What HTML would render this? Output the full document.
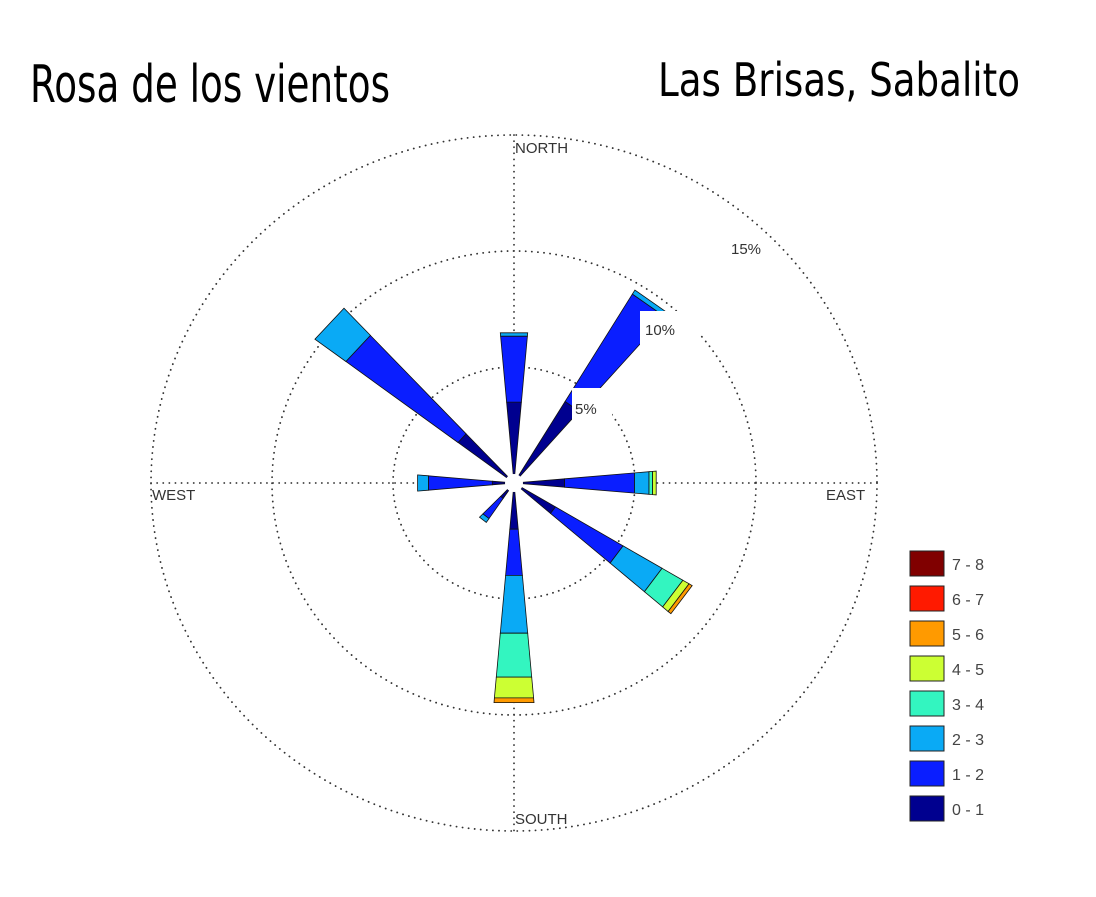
<!DOCTYPE html>
<html><head><meta charset="utf-8"><style>
html,body{margin:0;padding:0;background:#fff;}
svg{display:block;}
</style></head><body>
<svg id="chart" width="1096" height="897" viewBox="0 0 1096 897" xmlns="http://www.w3.org/2000/svg">
  <rect width="1096" height="897" fill="#fff"/>
  <text x="30" y="102" font-family="DejaVu Sans, sans-serif" font-size="52" textLength="360" lengthAdjust="spacingAndGlyphs">Rosa de los vientos</text>
  <text x="658" y="96" font-family="DejaVu Sans, sans-serif" font-size="46" textLength="362" lengthAdjust="spacingAndGlyphs">Las Brisas, Sabalito</text>
  <g id="grid"></g>
  <g id="wedges"></g>
  <circle cx="514" cy="483" r="9" fill="#fff"/>
  <g id="labels"></g>
  <g id="legend"></g>
</svg>
<script>
const directions = [0, 36, 90, 126, 180, 219, 270, 312];
const dirNames = ['N','NE','E','SE','S','SW','W','NW'];
const bin01 = [3.5, 4.1, 2.1, 2.0, 2.0, 0.8, 0.9, 2.9];
const bin12 = [2.85, 5.4, 2.9, 3.26, 2.0, 1.05, 2.65, 5.8];
const bin23 = [0.15, 0.2, 0.6, 1.88, 2.5, 0.2, 0.45, 1.6];
const bin34 = [0, 0, 0.15, 1.0, 1.9, 0, 0, 0];
const bin45 = [0, 0, 0.15, 0.3, 0.9, 0, 0, 0];
const bin56 = [0, 0, 0, 0.15, 0.2, 0, 0, 0];
const bin67 = [0, 0, 0, 0, 0, 0, 0, 0];
const bin78 = [0, 0, 0, 0, 0, 0, 0, 0];
const binLabels = ['0 - 1','1 - 2','2 - 3','3 - 4','4 - 5','5 - 6','6 - 7','7 - 8'];
const ringValues = [5, 10, 15];

const NS='http://www.w3.org/2000/svg';
const cx=514, cy=483, sx=24.2, sy=23.2, halfAng=5, r0=0;
const colors=['#00008f','#0a1eff','#0aaaf5','#33f5c0','#ccff33','#ff9a00','#ff1a00','#800000'];
const bins=[bin01,bin12,bin23,bin34,bin45,bin56,bin67,bin78];
function px(r,deg){const a=deg*Math.PI/180;return [cx+r*sx*Math.sin(a), cy-r*sy*Math.cos(a)];}
function mk(tag,attrs,parent){const e=document.createElementNS(NS,tag);for(const k in attrs)e.setAttribute(k,attrs[k]);parent.appendChild(e);return e;}

const grid=document.getElementById('grid');
ringValues.forEach((v,i)=>{
  const e=mk('ellipse',{cx:cx,cy:cy,rx:v*sx,ry:v*sy,fill:'none',stroke:'#333','stroke-width':1.8,'stroke-dasharray':'0.1 6','stroke-linecap':'round'},grid);
  
  
});
[[cx,cy-15*sy,cx,cy+15*sy],[cx-15*sx,cy,cx+15*sx,cy]].forEach((l,i)=>{
  const e=mk('line',{x1:l[0],y1:l[1],x2:l[2],y2:l[3],stroke:'#333','stroke-width':1.8,'stroke-dasharray':'0.1 6','stroke-linecap':'round'},grid);
  
  
});

const wg=document.getElementById('wedges');
directions.forEach((d,i)=>{
  let r=r0;
  bins.forEach((b,j)=>{
    const v=b[i]; if(!v) return;
    const r1=r+v;
    const p=[px(r,d-halfAng),px(r1,d-halfAng),px(r1,d+halfAng),px(r,d+halfAng)];
    const e=mk('polygon',{points:p.map(q=>q[0].toFixed(1)+','+q[1].toFixed(1)).join(' '),fill:colors[j],stroke:'#111','stroke-width':0.8},wg);
    
    
    r=r1;
  });
});

const lg=document.getElementById('labels');
function lbl(name,x,y,txt,bg){
  if(bg){const b=mk('rect',{x:bg[0],y:bg[1],width:bg[2],height:bg[3],fill:'#fff'},lg);
    
    }
  const t=mk('text',{x:x,y:y,'font-family':'Liberation Sans, Arial, sans-serif','font-size':15,fill:'#333'},lg);
  t.textContent=txt;
  
  
}
lbl('ring-label-5',575,414,'5%',[572,388,40,32]);
lbl('ring-label-10',645,335,'10%',[640,311,60,35]);
lbl('ring-label-15',731,254,'15%',null);
lbl('north-label',515,153,'NORTH',null);
lbl('west-label',152,500,'WEST',null);
lbl('east-label',826,500,'EAST',null);
lbl('south-label',515,824,'SOUTH',null);

const leg=document.getElementById('legend');
for(let k=0;k<8;k++){
  const j=7-k, y=551+k*35;
  const r=mk('rect',{x:910,y:y,width:34,height:25,fill:colors[j],stroke:'#222','stroke-width':1},leg);
  
  
  const t=mk('text',{x:952,y:y+19,'font-family':'Liberation Sans, Arial, sans-serif','font-size':16,fill:'#444'},leg);
  t.textContent=binLabels[j];
  
  
}
</script>
</body></html>
